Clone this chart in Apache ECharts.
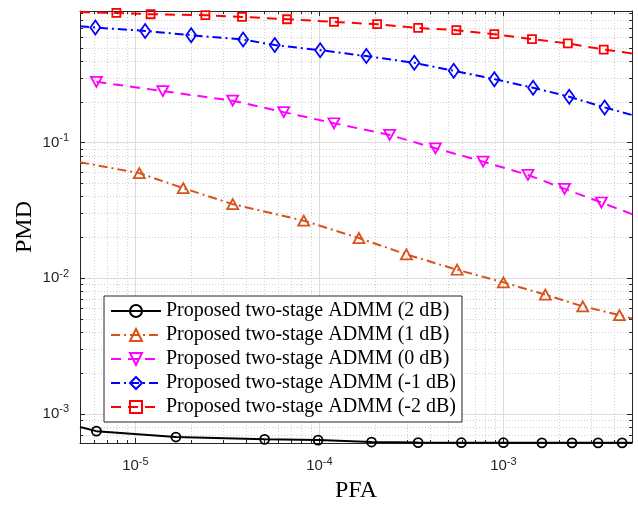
<!DOCTYPE html>
<html>
<head>
<meta charset="utf-8">
<script src="https://cdn.jsdelivr.net/npm/echarts@6/dist/echarts.min.js"></script>
<style>
  html, body { margin: 0; padding: 0; background: #ffffff; }
  #chart { width: 638px; height: 507px; }
</style>
</head>
<body>
<div id="chart"></div>
<script>
// ROC-style curves: probability of missed detection vs. probability of false alarm
const seriesNames = [
  'Proposed two-stage ADMM (2 dB)',
  'Proposed two-stage ADMM (1 dB)',
  'Proposed two-stage ADMM (0 dB)',
  'Proposed two-stage ADMM (-1 dB)',
  'Proposed two-stage ADMM (-2 dB)'
];

// 2 dB
const pfa2dB = [5e-6, 6.14e-6, 1.66e-5, 5.04e-5, 9.84e-5, 1.92e-4, 3.44e-4, 5.91e-4, 1.0e-3, 1.62e-3, 2.36e-3, 3.27e-3, 4.42e-3, 5e-3];
const pmd2dB = [8.0e-4, 7.46e-4, 6.75e-4, 6.49e-4, 6.41e-4, 6.2e-4, 6.14e-4, 6.13e-4, 6.13e-4, 6.12e-4, 6.12e-4, 6.12e-4, 6.12e-4, 6.12e-4];
// 1 dB
const pfa1dB = [5e-6, 1.05e-5, 1.82e-5, 3.38e-5, 8.22e-5, 1.64e-4, 2.97e-4, 5.60e-4, 1.0e-3, 1.69e-3, 2.70e-3, 4.27e-3, 5e-3];
const pmd1dB = [0.0717, 0.0596, 0.0462, 0.0352, 0.0266, 0.0198, 0.0150, 0.01156, 0.00933, 0.00757, 0.00621, 0.00535, 0.00505];
// 0 dB
const pfa0dB = [6.14e-6, 1.41e-5, 3.38e-5, 6.40e-5, 1.20e-4, 2.41e-4, 4.27e-4, 7.76e-4, 1.36e-3, 2.15e-3, 3.41e-3, 5e-3];
const pmd0dB = [0.281, 0.240, 0.204, 0.168, 0.139, 0.114, 0.0909, 0.0725, 0.0578, 0.0456, 0.0362, 0.0297];
// -1 dB
const pfaM1dB = [5e-6, 6.06e-6, 1.13e-5, 2.01e-5, 3.85e-5, 5.72e-5, 1.01e-4, 1.80e-4, 3.28e-4, 5.37e-4, 8.93e-4, 1.45e-3, 2.28e-3, 3.55e-3, 5e-3];
const pmdM1dB = [0.722, 0.706, 0.667, 0.620, 0.576, 0.524, 0.481, 0.435, 0.388, 0.339, 0.294, 0.254, 0.218, 0.182, 0.160];
// -2 dB
const pfaM2dB = [5e-6, 7.88e-6, 1.21e-5, 2.40e-5, 3.80e-5, 6.67e-5, 1.20e-4, 2.06e-4, 3.44e-4, 5.55e-4, 8.93e-4, 1.43e-3, 2.24e-3, 3.51e-3, 5e-3];
const pmdM2dB = [0.92, 0.905, 0.885, 0.871, 0.846, 0.813, 0.777, 0.747, 0.701, 0.675, 0.631, 0.580, 0.539, 0.486, 0.455];

// Axis ranges and decade tick labels
const xRange = [5e-6, 5e-3];
const yRange = [6.1e-4, 0.935];
const xMajorTicks = [1e-5, 1e-4, 1e-3];
const yMajorTicks = [1e-3, 1e-2, 1e-1];

function minorLogTicks(range) {
  const out = [];
  const lo = Math.floor(Math.log10(range[0]));
  const hi = Math.ceil(Math.log10(range[1]));
  for (let e = lo; e < hi; e++) {
    for (let m = 2; m <= 9; m++) {
      const v = m * Math.pow(10, e);
      if (v > range[0] * 1.0001 && v < range[1] * 0.9999) out.push(v);
    }
  }
  return out;
}
const xMinorTicks = minorLogTicks(xRange);
const yMinorTicks = minorLogTicks(yRange);

const axisColor = '#262626';
const tickFont = 'Liberation Sans';
const serifFont = 'Liberation Serif';

const tickRich = {
  b: { fontSize: 15, fontFamily: tickFont, color: axisColor, lineHeight: 18 },
  s: { fontSize: 11, fontFamily: tickFont, color: axisColor, lineHeight: 18, padding: [0, 0, 9, 0] }
};
function powLabel(v) {
  return '{b|10}{s|' + Math.round(Math.log10(v)) + '}';
}

function logAxis(range, position, ticks, opts) {
  return Object.assign({
    type: 'log',
    logBase: 10,
    min: range[0],
    max: range[1],
    position: position,
    axisLine: { show: false },
    axisTick: { show: true, inside: true, length: 5, customValues: ticks, lineStyle: { color: axisColor, width: 1 } },
    axisLabel: { show: false },
    splitLine: { show: false },
    minorTick: { show: false },
    minorSplitLine: { show: false }
  }, opts || {});
}

const xAxes = [
  logAxis(xRange, 'bottom', xMajorTicks, {
    axisLine: { show: true, lineStyle: { color: axisColor, width: 1 } },
    axisLabel: { show: true, customValues: xMajorTicks, formatter: powLabel, rich: tickRich,
                 fontSize: 15, fontFamily: tickFont, color: axisColor, margin: 14 },
    splitLine: { show: true, lineStyle: { color: '#dcdcdc', width: 1 } },
    name: 'PFA', nameLocation: 'middle', nameGap: 36, nameMoveOverlap: false,
    nameTextStyle: { fontFamily: serifFont, fontSize: 24, color: '#000' }
  }),
  logAxis(xRange, 'bottom', xMinorTicks, {
    axisTick: { show: true, inside: true, length: 3, customValues: xMinorTicks, lineStyle: { color: axisColor, width: 1 } },
    splitLine: { show: true, lineStyle: { color: '#cfcfcf', width: 1, type: [1, 2] } }
  }),
  logAxis(xRange, 'top', xMajorTicks, {
    axisLine: { show: true, lineStyle: { color: axisColor, width: 1 } }
  }),
  logAxis(xRange, 'top', xMinorTicks, {
    axisTick: { show: true, inside: true, length: 3, customValues: xMinorTicks, lineStyle: { color: axisColor, width: 1 } }
  })
];

const yAxes = [
  logAxis(yRange, 'left', yMajorTicks, {
    axisLine: { show: true, lineStyle: { color: axisColor, width: 1 } },
    axisLabel: { show: true, customValues: yMajorTicks, formatter: powLabel, rich: tickRich,
                 fontSize: 15, fontFamily: tickFont, color: axisColor, margin: 11 },
    splitLine: { show: true, lineStyle: { color: '#dcdcdc', width: 1 } },
    name: 'PMD', nameLocation: 'middle', nameGap: 43, nameRotate: 90, nameMoveOverlap: false,
    nameTextStyle: { fontFamily: serifFont, fontSize: 24, color: '#000' }
  }),
  logAxis(yRange, 'left', yMinorTicks, {
    axisTick: { show: true, inside: true, length: 3, customValues: yMinorTicks, lineStyle: { color: axisColor, width: 1 } },
    splitLine: { show: true, lineStyle: { color: '#cfcfcf', width: 1, type: [1, 2] } }
  }),
  logAxis(yRange, 'right', yMajorTicks, {
    axisLine: { show: true, lineStyle: { color: axisColor, width: 1 } }
  }),
  logAxis(yRange, 'right', yMinorTicks, {
    axisTick: { show: true, inside: true, length: 3, customValues: yMinorTicks, lineStyle: { color: axisColor, width: 1 } }
  })
];

// Line/marker look for each curve (MATLAB-like styles)
const curveStyles = [
  { color: '#000000', dash: 'solid',        symbol: 'circle',   size: 9,        rotate: 0,   plainStart: true,  plainEnd: true },
  { color: '#D95319', dash: [9, 4, 2, 4],   symbol: 'triangle', size: [11, 10], rotate: 0,   plainStart: true,  plainEnd: true },
  { color: '#FF00FF', dash: [10, 7],        symbol: 'triangle', size: [11, 10], rotate: 180, plainStart: false, plainEnd: true },
  { color: '#0000FF', dash: [9, 4, 2, 4],   symbol: 'diamond',  size: [10, 14], rotate: 0,   plainStart: true,  plainEnd: true },
  { color: '#FF0000', dash: [10, 7],        symbol: 'rect',     size: 8,        rotate: 0,   plainStart: true,  plainEnd: true }
];
const curveData = [
  [pfa2dB, pmd2dB],
  [pfa1dB, pmd1dB],
  [pfa0dB, pmd0dB],
  [pfaM1dB, pmdM1dB],
  [pfaM2dB, pmdM2dB]
];

const series = curveData.map(function (pair, i) {
  const st = curveStyles[i];
  const xs = pair[0], ys = pair[1];
  const data = xs.map(function (x, k) {
    const item = { value: [x, ys[k]] };
    if ((k === 0 && st.plainStart) || (k === xs.length - 1 && st.plainEnd)) item.symbol = 'none';
    return item;
  });
  return {
    type: 'line',
    name: seriesNames[i],
    xAxisIndex: 0,
    yAxisIndex: 0,
    data: data,
    symbol: st.symbol,
    symbolSize: st.size,
    symbolRotate: st.rotate,
    showSymbol: true,
    showAllSymbol: true,
    clip: true,
    lineStyle: { color: st.color, width: 2, type: st.dash },
    itemStyle: { color: 'rgba(255,255,255,0)', borderColor: st.color, borderWidth: 1.8 },
    emphasis: { disabled: true },
    z: 3
  };
});

const chart = echarts.init(document.getElementById('chart'), null, { renderer: 'canvas' });
chart.setOption({
  animation: false,
  backgroundColor: '#ffffff',
  grid: { left: 80, right: 6, top: 11, bottom: 64, outerBoundsMode: 'none' },
  xAxis: xAxes,
  yAxis: yAxes,
  legend: {
    left: 104,
    top: 296,
    orient: 'vertical',
    itemWidth: 50,
    itemHeight: 15,
    itemGap: 4,
    padding: [5, 6, 5, 6],
    backgroundColor: '#ffffff',
    borderColor: axisColor,
    borderWidth: 1,
    borderRadius: 0,
    selectedMode: false,
    symbolRotate: 'inherit',
    textStyle: { fontFamily: serifFont, fontSize: 20, color: '#000000' },
    data: seriesNames
  },
  series: series
});
</script>
</body>
</html>
